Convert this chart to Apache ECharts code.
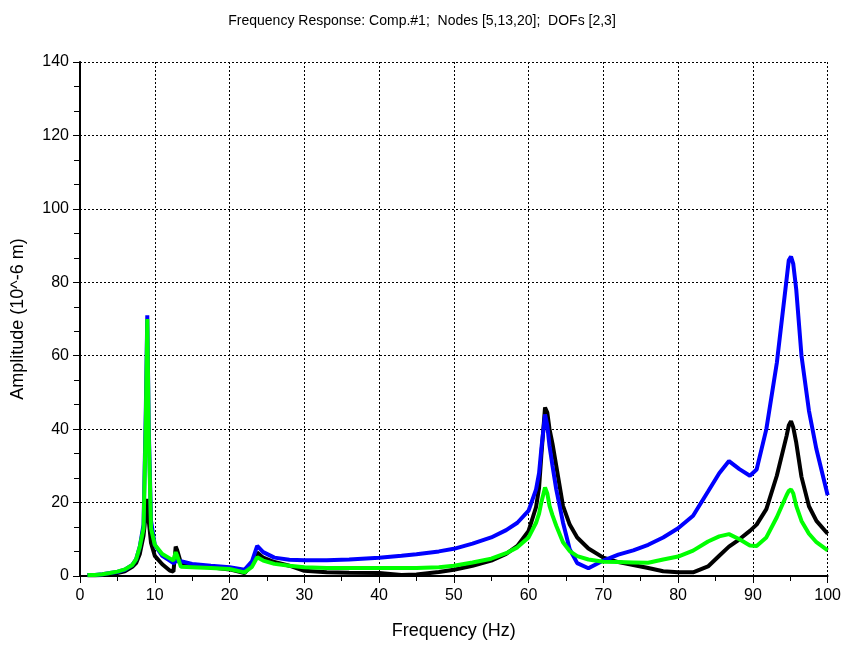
<!DOCTYPE html>
<html>
<head>
<meta charset="utf-8">
<script src="https://cdn.jsdelivr.net/npm/echarts@6/dist/echarts.min.js"></script>
<style>html,body{margin:0;padding:0;background:#fff;}#c{width:844px;height:645px;}</style>
</head>
<body>
<div id="c"></div>
<script>
var titleText = 'Frequency Response: Comp.#1;  Nodes [5,13,20];  DOFs [2,3]';
var xName = 'Frequency (Hz)';
var yName = 'Amplitude (10^-6 m)';

var freq = [1, 2, 3, 4, 5, 6, 7, 7.5, 8, 8.5, 8.8, 9, 9.2, 9.5, 10, 11, 12, 12.5, 12.8, 13, 13.5, 15, 17.5, 20, 22, 23, 23.7, 24.5, 26, 28, 30, 33, 36, 40, 43, 45, 48, 50, 52.5, 55, 57, 58.5, 60, 61, 61.4, 61.7, 62.2, 62.5, 62.8, 63.2, 63.7, 64.6, 65.5, 66.5, 68, 70, 72, 74, 76, 78, 80, 82, 84, 85.5, 86.8, 88.2, 89.6, 90.5, 91.8, 93.2, 94.5, 94.8, 95.1, 95.4, 95.8, 96.5, 97.5, 98.5, 100];

var blueVals = [0.3, 0.3, 0.5, 0.8, 1.1, 1.7, 3.0, 4.5, 8, 14, 45, 71, 40, 15, 8.5, 5.5, 4.2, 3.5, 4, 4.5, 4.0, 3.3, 2.8, 2.4, 1.7, 4, 8.2, 6.5, 5.0, 4.4, 4.3, 4.3, 4.5, 5.0, 5.5, 5.9, 6.7, 7.4, 8.8, 10.5, 12.5, 14.5, 17.8, 23.6, 28, 34.5, 44, 41, 35.4, 30, 23.6, 14.6, 7.3, 3.5, 2.1, 4.2, 5.8, 7.0, 8.5, 10.5, 13.0, 16.4, 23, 28, 31.3, 29.1, 27.3, 29, 40, 58, 80.7, 86, 87, 85, 78, 60, 45, 34.5, 22];

var blackVals = [0.2, 0.2, 0.3, 0.5, 0.8, 1.3, 2.5, 3.5, 6, 11, 17, 21, 15, 9, 5.5, 3.2, 1.5, 1.2, 8, 7, 3.5, 3.0, 2.4, 1.8, 0.8, 3, 6.4, 5.0, 3.8, 2.8, 1.4, 1.0, 0.9, 0.8, 0.3, 0.4, 1.1, 1.7, 2.8, 4.2, 6.0, 8.2, 12.3, 18.8, 24, 32.7, 45.9, 44.5, 40, 36, 30, 19.1, 14, 10.5, 7.5, 5.0, 3.8, 3.0, 2.2, 1.3, 1.0, 1.0, 2.6, 5.5, 8.0, 10, 12.3, 14, 18.2, 27.3, 38.1, 41, 42.2, 40.5, 36.3, 27, 19, 15, 11.5];

var greenVals = [0.3, 0.3, 0.5, 0.8, 1.2, 1.8, 3.0, 4.5, 8, 13, 42, 70, 38, 13, 8.5, 6.0, 4.8, 4.2, 6.5, 5.5, 2.5, 2.4, 2.2, 1.9, 1.0, 2.5, 5.1, 4.2, 3.3, 2.8, 2.4, 2.2, 2.2, 2.2, 2.2, 2.2, 2.4, 2.8, 3.7, 4.7, 6.2, 7.8, 10.5, 14.5, 17, 20, 24.1, 22.5, 19.1, 16.5, 13.7, 9.2, 6.8, 5.4, 4.5, 3.9, 3.8, 3.7, 3.6, 4.5, 5.3, 6.9, 9.4, 10.8, 11.4, 10, 8.3, 8.2, 10.5, 16, 22, 23.2, 23.6, 22.5, 19.1, 15, 11.5, 9.2, 7.0];

function pairs(v) { return freq.map(function (f, i) { return [f, v[i]]; }); }

var font = 'Liberation Sans, Arial, sans-serif';
var chart = echarts.init(document.getElementById('c'), null, {renderer: 'canvas'});
var grid = {left: 80, right: 16, top: 62, bottom: 68};
var dotted = {color: '#000', width: 1, type: [2, 2]};

chart.setOption({
  animation: false,
  backgroundColor: '#fff',
  title: {
    text: titleText, left: 'center', top: 9,
    textStyle: {fontFamily: font, fontSize: 14, fontWeight: 'normal', color: '#000'}
  },
  grid: grid,
  xAxis: [{
    type: 'value', min: 0, max: 100, interval: 10,
    name: xName, nameLocation: 'middle', nameGap: 46,
    nameTextStyle: {fontFamily: font, fontSize: 18, color: '#000'},
    axisLine: {show: true, onZero: false, lineStyle: {color: '#000', width: 2}},
    axisTick: {show: true, length: 7, lineStyle: {color: '#000', width: 1}},
    minorTick: {show: true, splitNumber: 2, length: 5, lineStyle: {color: '#000', width: 1}},
    axisLabel: {fontFamily: font, fontSize: 16, color: '#000', margin: 12},
    splitLine: {show: true, lineStyle: dotted}
  }, {
    type: 'value', min: 0, max: 100, interval: 10, position: 'top',
    axisLine: {show: false},
    axisTick: {show: true, inside: true, length: 6, lineStyle: {color: '#000'}},
    axisLabel: {show: false}, splitLine: {show: false}
  }],
  yAxis: [{
    type: 'value', min: 0, max: 140, interval: 20,
    name: yName, nameLocation: 'middle', nameGap: 53, nameRotate: 90,
    nameTextStyle: {fontFamily: font, fontSize: 18, color: '#000'},
    axisLine: {show: true, lineStyle: {color: '#000', width: 2}},
    axisTick: {show: true, length: 7, lineStyle: {color: '#000', width: 1}},
    minorTick: {show: true, splitNumber: 3, length: 6, lineStyle: {color: '#000', width: 1}},
    axisLabel: {fontFamily: font, fontSize: 16, color: '#000', margin: 11},
    splitLine: {show: true, lineStyle: dotted}
  }, {
    type: 'value', min: 0, max: 140, interval: 20, position: 'right',
    axisLine: {show: true, lineStyle: {color: '#000', width: 1}},
    axisTick: {show: true, inside: true, length: 6, lineStyle: {color: '#000'}},
    axisLabel: {show: false}, splitLine: {show: false}
  }],
  series: [
    {type: 'line', name: 'black', data: pairs(blackVals), showSymbol: false, lineStyle: {color: '#000000', width: 4}, z: 3},
    {type: 'line', name: 'blue', data: pairs(blueVals), showSymbol: false, lineStyle: {color: '#0000ff', width: 4}, z: 4},
    {type: 'line', name: 'green', data: pairs(greenVals), showSymbol: false, lineStyle: {color: '#00ff00', width: 4}, z: 5}
  ]
});
</script>
</body>
</html>
